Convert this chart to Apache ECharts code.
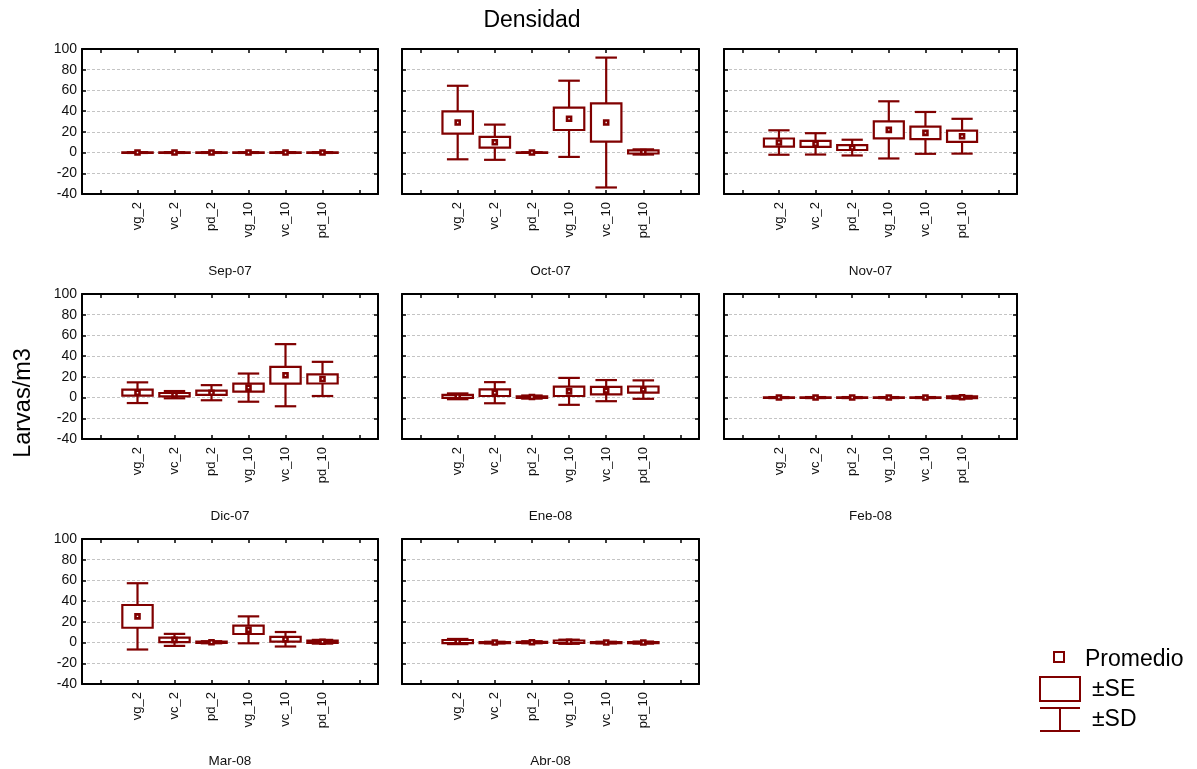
<!DOCTYPE html>
<html>
<head>
<meta charset="utf-8">
<script src="https://cdn.jsdelivr.net/npm/echarts@6/dist/echarts.min.js"></script>
<style>html,body{margin:0;padding:0;background:#fff}#c{width:1197px;height:769px}</style>
</head>
<body>
<div id="c"></div>
<script>
// ---- data ----
const categories = ['vg_2', 'vc_2', 'pd_2', 'vg_10', 'vc_10', 'pd_10'];
const months = ['Sep-07', 'Oct-07', 'Nov-07', 'Dic-07', 'Ene-08', 'Feb-08', 'Mar-08', 'Abr-08'];
const yTicks = [-40, -20, 0, 20, 40, 60, 80, 100];

// mean (Promedio), standard error (±SE), standard deviation (±SD) per month
const meanSep07 = [0, 0, 0, 0, 0, 0];
const seSep07   = [0.2, 0.2, 0.2, 0.2, 0.2, 0.2];
const sdSep07   = [0.4, 0.4, 0.4, 0.4, 0.4, 0.4];

const meanOct07 = [29, 10, 0, 32.6, 29, 0.6];
const seOct07   = [10.8, 5.2, 0.2, 10.8, 18.5, 1.5];
const sdOct07   = [35.5, 17, 0.3, 36.8, 62.7, 2.5];

const meanNov07 = [9.7, 8.4, 4.8, 21.9, 19, 15.8];
const seNov07   = [3.9, 2.9, 2.3, 8.2, 6.1, 5.4];
const sdNov07   = [11.8, 10.3, 7.6, 27.6, 20.2, 16.8];

const meanDic07 = [4.7, 2.8, 4.7, 9.6, 21.6, 18];
const seDic07   = [2.9, 1.6, 2.1, 3.9, 8.1, 4.4];
const sdDic07   = [10, 3.5, 7.3, 13.6, 30, 16.5];

const meanEne08 = [1.2, 4.7, 0.5, 6, 6.7, 7.7];
const seEne08   = [1.5, 3.2, 0.8, 4.5, 3.6, 3];
const sdEne08   = [2.8, 10.2, 1.5, 13, 10.2, 8.9];

const meanFeb08 = [0, 0, 0, 0, 0, 0.3];
const seFeb08   = [0.3, 0.3, 0.3, 0.3, 0.3, 0.8];
const sdFeb08   = [0.5, 0.5, 0.5, 0.5, 0.5, 1.3];

const meanMar08 = [25.3, 2.6, 0.3, 12.3, 3.2, 0.8];
const seMar08   = [11, 2.1, 0.6, 4, 2.3, 1];
const sdMar08   = [32, 5.8, 1, 13, 7, 1.8];

const meanAbr08 = [1, 0, 0.3, 0.8, 0, 0];
const seAbr08   = [1.5, 0.5, 0.5, 1.2, 0.5, 0.5];
const sdAbr08   = [2.5, 0.8, 1, 2, 0.8, 1];

const means = [meanSep07, meanOct07, meanNov07, meanDic07, meanEne08, meanFeb08, meanMar08, meanAbr08];
const ses   = [seSep07, seOct07, seNov07, seDic07, seEne08, seFeb08, seMar08, seAbr08];
const sds   = [sdSep07, sdOct07, sdNov07, sdDic07, sdEne08, sdFeb08, sdMar08, sdAbr08];

// ---- layout / style ----
const COLOR = '#800000';
const FONT = 'Liberation Sans, Arial, sans-serif';
const colLeft = [82, 402, 724];
const colWidth = [296, 297, 293];
const rowTop = [49, 294, 539];
const rowHeight = 145;
const axisCats = [''].concat(categories, ['']);

function renderItem(params, api) {
  const x = api.value(0), m = api.value(1), se = api.value(2), sd = api.value(3);
  const band = api.size([1, 0])[0];
  const c = api.coord([x, m]);
  const seHi = api.coord([x, m + se])[1], seLo = api.coord([x, m - se])[1];
  const sdHi = api.coord([x, m + sd])[1], sdLo = api.coord([x, m - sd])[1];
  const bw = band * 0.82, cw = band * 0.58, ms = 4;
  const st = { stroke: COLOR, lineWidth: 2.2, fill: 'transparent' };
  const cx = c[0];
  return {
    type: 'group',
    children: [
      { type: 'line', shape: { x1: cx, y1: sdHi, x2: cx, y2: sdLo }, style: st },
      { type: 'line', shape: { x1: cx - cw / 2, y1: sdHi, x2: cx + cw / 2, y2: sdHi }, style: st },
      { type: 'line', shape: { x1: cx - cw / 2, y1: sdLo, x2: cx + cw / 2, y2: sdLo }, style: st },
      { type: 'rect', shape: { x: cx - bw / 2, y: seHi, width: bw, height: Math.max(seLo - seHi, 0.5) },
        style: { stroke: COLOR, lineWidth: 2.2, fill: '#fff' } },
      { type: 'rect', shape: { x: cx - ms / 2, y: c[1] - ms / 2, width: ms, height: ms },
        style: { stroke: COLOR, lineWidth: 2.6, fill: '#fff' } }
    ]
  };
}

const grids = [], xAxes = [], yAxes = [], series = [];
months.forEach(function (mo, i) {
  const col = i % 3, row = Math.floor(i / 3);
  grids.push({ left: colLeft[col], top: rowTop[row], width: colWidth[col], height: rowHeight });
  const lineStyle = { color: '#000', width: 2 };
  const tick = { show: true, inside: true, alignWithLabel: true, interval: 0, length: 4, lineStyle: { color: '#000', width: 1.5 } };
  xAxes.push({
    type: 'category', gridIndex: i, data: axisCats, position: 'bottom',
    axisLine: { onZero: false, lineStyle: lineStyle },
    axisTick: tick,
    axisLabel: { rotate: 90, interval: 0, margin: 8, fontSize: 13, color: '#111', fontFamily: FONT },
    name: mo, nameLocation: 'middle', nameGap: 70,
    nameTextStyle: { fontSize: 13.5, color: '#111', fontFamily: FONT }
  });
  xAxes.push({
    type: 'category', gridIndex: i, data: axisCats, position: 'top',
    axisLine: { onZero: false, lineStyle: lineStyle },
    axisTick: tick,
    axisLabel: { show: false }
  });
  yAxes.push({
    type: 'value', gridIndex: i, min: -40, max: 100, interval: 20, position: 'left',
    axisLine: { show: true, onZero: false, lineStyle: lineStyle },
    axisTick: { show: true, inside: true, length: 4, lineStyle: { color: '#000', width: 1.5 } },
    axisLabel: { show: col === 0, margin: 5, fontSize: 14, color: '#111', fontFamily: FONT },
    splitLine: { show: true, lineStyle: { color: '#c4c4c4', type: [3, 2], width: 1 } }
  });
  yAxes.push({
    type: 'value', gridIndex: i, min: -40, max: 100, interval: 20, position: 'right',
    axisLine: { show: true, onZero: false, lineStyle: lineStyle },
    axisTick: { show: true, inside: true, length: 4, lineStyle: { color: '#000', width: 1.5 } },
    axisLabel: { show: false }, splitLine: { show: false }
  });
  const data = categories.map(function (c, k) { return [k + 1, means[i][k], ses[i][k], sds[i][k]]; });
  series.push({
    type: 'custom', name: mo, xAxisIndex: 2 * i, yAxisIndex: 2 * i,
    renderItem: renderItem, data: data, z: 5, silent: true,
    encode: { x: 0, y: [1] }
  });
});

const chart = echarts.init(document.getElementById('c'), null, { renderer: 'canvas' });
chart.setOption({
  backgroundColor: '#fff',
  animation: false,
  grid: grids, xAxis: xAxes, yAxis: yAxes, series: series,
  graphic: [
    { type: 'text', x: 532, y: 21, style: { text: 'Densidad', fontSize: 23, fill: '#000', fontFamily: FONT, align: 'center', verticalAlign: 'middle' } },
    { type: 'text', x: 24, y: 403, rotation: Math.PI / 2, style: { text: 'Larvas/m3', fontSize: 23.5, fill: '#000', fontFamily: FONT, align: 'center', verticalAlign: 'middle' } },
    // legend
    { type: 'rect', shape: { x: 1054, y: 652, width: 10, height: 10 }, style: { stroke: COLOR, lineWidth: 2, fill: '#fff' } },
    { type: 'text', x: 1085, y: 660, style: { text: 'Promedio', fontSize: 23, fill: '#000', fontFamily: FONT, verticalAlign: 'middle' } },
    { type: 'rect', shape: { x: 1040, y: 677, width: 40, height: 24 }, style: { stroke: COLOR, lineWidth: 2, fill: '#fff' } },
    { type: 'text', x: 1092, y: 690, style: { text: '±SE', fontSize: 23, fill: '#000', fontFamily: FONT, verticalAlign: 'middle' } },
    { type: 'line', shape: { x1: 1040, y1: 708, x2: 1080, y2: 708 }, style: { stroke: COLOR, lineWidth: 2 } },
    { type: 'line', shape: { x1: 1060, y1: 708, x2: 1060, y2: 731 }, style: { stroke: COLOR, lineWidth: 2 } },
    { type: 'line', shape: { x1: 1040, y1: 731, x2: 1080, y2: 731 }, style: { stroke: COLOR, lineWidth: 2 } },
    { type: 'text', x: 1092, y: 720, style: { text: '±SD', fontSize: 23, fill: '#000', fontFamily: FONT, verticalAlign: 'middle' } }
  ]
});
</script>
</body>
</html>
